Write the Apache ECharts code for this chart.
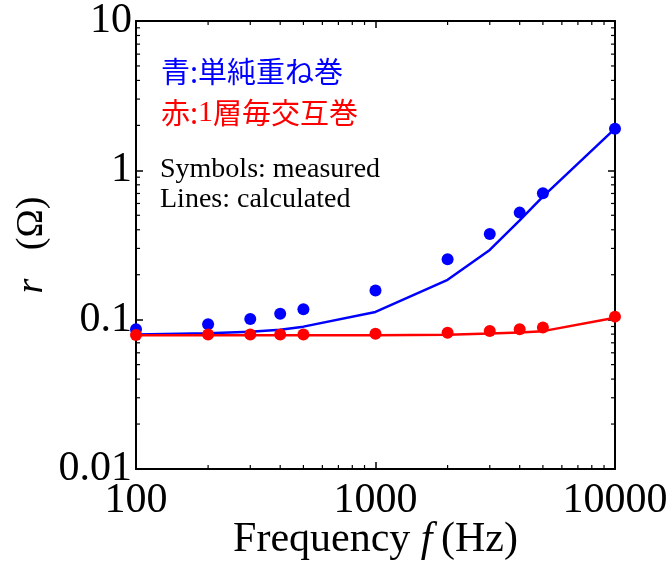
<!DOCTYPE html>
<html>
<head>
<meta charset="utf-8">
<script src="https://cdn.jsdelivr.net/npm/echarts@6/dist/echarts.min.js"></script>
<style>
html,body{margin:0;padding:0;background:#fff;}
#chart{width:671px;height:566px;}
</style>
</head>
<body>
<div id="chart"></div>
<script>
// ---- data ----
var freqMeasured = [100, 200, 300, 400, 500, 1000, 2000, 3000, 4000, 5000, 10000];
var blueMeasured = [0.0862, 0.0931, 0.1011, 0.1097, 0.1174, 0.157, 0.254, 0.375, 0.521, 0.703, 1.90];
var redMeasured  = [0.0790, 0.0795, 0.0796, 0.0796, 0.0796, 0.0806, 0.0818, 0.0840, 0.0862, 0.0885, 0.1048];

var freqCalc  = [100, 200, 300, 400, 500, 1000, 2000, 3000, 4000, 5000, 10000];
var blueCalc  = [0.0795, 0.0810, 0.0831, 0.0857, 0.0898, 0.1126, 0.185, 0.293, 0.462, 0.667, 1.90];
var redCalc   = [0.0785, 0.0785, 0.0785, 0.0785, 0.0785, 0.0785, 0.0793, 0.0808, 0.0822, 0.0838, 0.1031];

var xMajorTickLabels = ['100', '1000', '10000'];
var yMajorTickLabels = ['0.01', '0.1', '1', '10'];
var xMinorTicks = [200, 300, 400, 500, 600, 700, 800, 900, 2000, 3000, 4000, 5000, 6000, 7000, 8000, 9000];
var yMinorTicks = [0.02, 0.03, 0.04, 0.05, 0.06, 0.07, 0.08, 0.09, 0.2, 0.3, 0.4, 0.5, 0.6, 0.7, 0.8, 0.9, 2, 3, 4, 5, 6, 7, 8, 9];

var xMin = 100, xMax = 10000, yMin = 0.01, yMax = 10;

var legendBlue = ['青', ':単純重ね巻'];
var legendRed = ['赤', ':', '1', '層毎交互巻'];
var noteLines = ['Symbols: measured', 'Lines: calculated'];

// ---- chart ----
var SERIF = '"Liberation Serif", "Times New Roman", serif';
var CJK = '"Noto Sans CJK JP", sans-serif';
var BLUE = 'rgb(0,0,255)';
var RED = 'rgb(255,0,0)';

function pairs(xs, ys) { return xs.map(function (x, i) { return [x, ys[i]]; }); }
function fmt(v) { return String(+(+v).toPrecision(6)); }

var chart = echarts.init(document.getElementById('chart'), null, { renderer: 'canvas' });

var axisLine = { show: true, onZero: false, lineStyle: { color: '#000', width: 2 } };
var majorTick = { show: true, inside: true, length: 7, lineStyle: { color: '#000', width: 1.5 } };
var MINOR_LEN = 4;

var option = {
  backgroundColor: '#fff',
  animation: false,
  grid: { left: 136, right: 56, top: 21, bottom: 97, containLabel: false, outerBoundsMode: 'none' },
  xAxis: [{
    type: 'log', logBase: 10, min: xMin, max: xMax, position: 'bottom',
    axisLine: axisLine, axisTick: majorTick, splitLine: { show: false },
    axisLabel: {
      margin: 11, color: '#000', fontFamily: SERIF, fontSize: 42,
      formatter: function (v) { var s = fmt(v); return xMajorTickLabels.indexOf(s) >= 0 ? s : ''; }
    },
    name: 'Frequency {i|f}\u2009(Hz)', nameLocation: 'middle', nameGap: 50, nameMoveOverlap: false,
    nameTextStyle: {
      color: '#000', fontFamily: SERIF, fontSize: 42,
      rich: { i: { fontStyle: 'italic', fontFamily: SERIF, fontSize: 42, color: '#000' } }
    }
  }, {
    type: 'log', logBase: 10, min: xMin, max: xMax, position: 'top',
    axisLine: axisLine, axisTick: majorTick, splitLine: { show: false },
    axisLabel: { show: false }
  }],
  yAxis: [{
    type: 'log', logBase: 10, min: yMin, max: yMax, position: 'left',
    axisLine: axisLine, axisTick: majorTick, splitLine: { show: false },
    axisLabel: {
      margin: 4, color: '#000', fontFamily: SERIF, fontSize: 42,
      formatter: function (v) { var s = fmt(v); return yMajorTickLabels.indexOf(s) >= 0 ? s : ''; }
    },
    name: '{i|r}   (Ω)', nameLocation: 'middle', nameGap: 85, nameRotate: 90, nameMoveOverlap: false,
    nameTextStyle: {
      color: '#000', fontFamily: SERIF, fontSize: 38,
      rich: { i: { fontStyle: 'italic', fontFamily: SERIF, fontSize: 38, color: '#000' } }
    }
  }, {
    type: 'log', logBase: 10, min: yMin, max: yMax, position: 'right',
    axisLine: axisLine, axisTick: majorTick, splitLine: { show: false },
    axisLabel: { show: false }
  }],
  graphic: [
    {
      type: 'text', left: 161, top: 57, z: 100,
      style: {
        text: '{a|' + legendBlue[0] + '}{a|' + legendBlue[1] + '}',
        rich: { a: { fontFamily: CJK, fontSize: 29, fill: BLUE } }
      }
    },
    {
      type: 'text', left: 161, top: 98, z: 100,
      style: {
        text: '{a|' + legendRed[0] + '}{a|' + legendRed[1] + '}{n|' + legendRed[2] + '}{a|' + legendRed[3] + '}',
        rich: {
          a: { fontFamily: CJK, fontSize: 29, fill: RED },
          n: { fontFamily: SERIF, fontSize: 30, fill: RED }
        }
      }
    },
    {
      type: 'text', left: 160, top: 156, z: 100,
      style: { text: noteLines[0], font: '28px ' + SERIF, fill: '#000' }
    },
    {
      type: 'text', left: 160, top: 186, z: 100,
      style: { text: noteLines[1], font: '28px ' + SERIF, fill: '#000' }
    }
  ],
  series: [
    {
      type: 'custom', name: 'xMinor', xAxisIndex: 0, yAxisIndex: 0, clip: false, silent: true,
      data: xMinorTicks.map(function (v) { return [v, yMin]; }),
      renderItem: function (params, api) {
        var v = api.value(0);
        var b = api.coord([v, yMin]);
        var t = api.coord([v, yMax]);
        var st = { stroke: '#000', lineWidth: 1.2 };
        return { type: 'group', children: [
          { type: 'line', shape: { x1: b[0], y1: b[1], x2: b[0], y2: b[1] - MINOR_LEN }, style: st },
          { type: 'line', shape: { x1: t[0], y1: t[1], x2: t[0], y2: t[1] + MINOR_LEN }, style: st }
        ] };
      }
    },
    {
      type: 'custom', name: 'yMinor', xAxisIndex: 0, yAxisIndex: 0, clip: false, silent: true,
      data: yMinorTicks.map(function (v) { return [xMin, v]; }),
      renderItem: function (params, api) {
        var v = api.value(1);
        var l = api.coord([xMin, v]);
        var r = api.coord([xMax, v]);
        var st = { stroke: '#000', lineWidth: 1.2 };
        return { type: 'group', children: [
          { type: 'line', shape: { x1: l[0], y1: l[1], x2: l[0] + MINOR_LEN, y2: l[1] }, style: st },
          { type: 'line', shape: { x1: r[0], y1: r[1], x2: r[0] - MINOR_LEN, y2: r[1] }, style: st }
        ] };
      }
    },
    {
      type: 'line', name: 'blueCalc', data: pairs(freqCalc, blueCalc),
      showSymbol: false, symbol: 'none', lineStyle: { color: BLUE, width: 2.5 }, z: 3
    },
    {
      type: 'scatter', name: 'blueMeasured', data: pairs(freqMeasured, blueMeasured),
      symbol: 'circle', symbolSize: 12, itemStyle: { color: BLUE, opacity: 1 }, z: 4
    },
    {
      type: 'line', name: 'redCalc', data: pairs(freqCalc, redCalc),
      showSymbol: false, symbol: 'none', lineStyle: { color: RED, width: 2.5 }, z: 5
    },
    {
      type: 'scatter', name: 'redMeasured', data: pairs(freqMeasured, redMeasured),
      symbol: 'circle', symbolSize: 12, itemStyle: { color: RED, opacity: 1 }, z: 6
    }
  ]
};
chart.setOption(option);
</script>
</body>
</html>
